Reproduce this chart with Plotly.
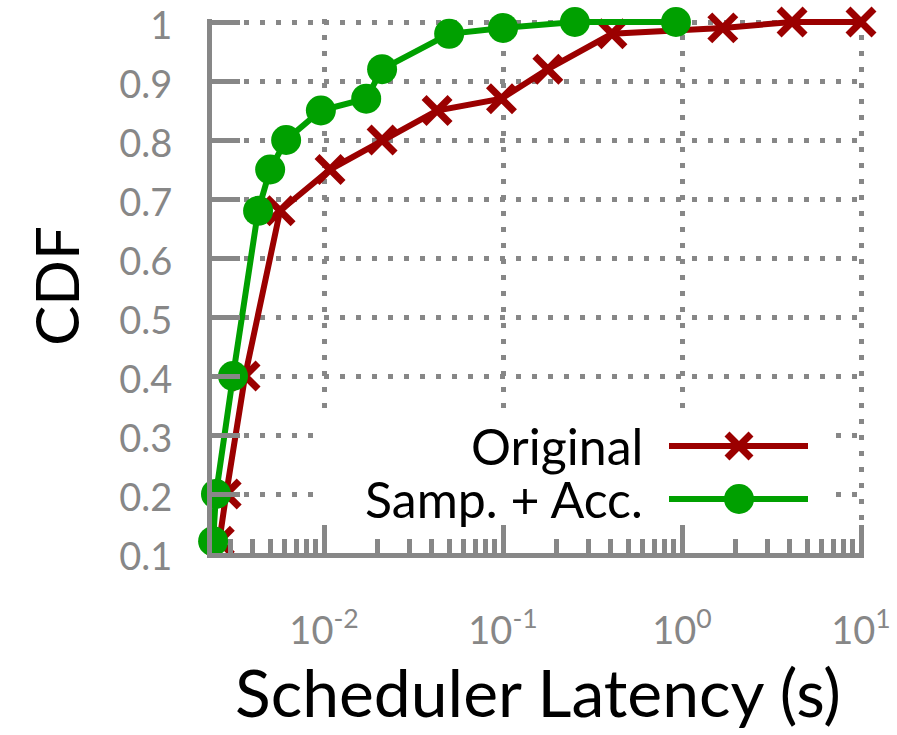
import plotly.graph_objects as go

# ---- data ----
orig_x = [0.0026, 0.00284, 0.00362, 0.00568, 0.0108, 0.0211, 0.0428, 0.098, 0.178, 0.406, 1.69, 4.12, 10.0]
orig_y = [0.12, 0.20, 0.40, 0.68, 0.75, 0.80, 0.85, 0.87, 0.92, 0.98, 0.99, 1.0, 1.0]
samp_x = [0.0024, 0.00249, 0.0031, 0.00428, 0.005, 0.00614, 0.0096, 0.0172, 0.0211, 0.05, 0.1, 0.252, 0.925]
samp_y = [0.12, 0.20, 0.40, 0.68, 0.75, 0.80, 0.85, 0.87, 0.92, 0.98, 0.99, 1.0, 1.0]
series_names = ["Original", "Samp. + Acc."]
y_ticks = [0.1, 0.2, 0.3, 0.4, 0.5, 0.6, 0.7, 0.8, 0.9, 1.0]
y_tick_labels = ["0.1", "0.2", "0.3", "0.4", "0.5", "0.6", "0.7", "0.8", "0.9", "1"]
x_tick_vals = [0.01, 0.1, 1, 10]
x_tick_labels = ["10<sup>-2</sup>", "10<sup>-1</sup>", "10<sup>0</sup>", "10<sup>1</sup>"]

RED = "#9b0000"
GREEN = "#00a000"
GRAY = "#878787"
FONT = "Lato"

fig = go.Figure()
fig.add_trace(go.Scatter(
    x=orig_x, y=orig_y, mode="lines+markers", name=series_names[0],
    line=dict(color=RED, width=6),
    marker=dict(symbol="x-thin", size=26, line=dict(color=RED, width=7), color=RED),
    cliponaxis=False, showlegend=False))
fig.add_trace(go.Scatter(
    x=samp_x, y=samp_y, mode="lines+markers", name=series_names[1],
    line=dict(color=GREEN, width=6),
    marker=dict(symbol="circle", size=30, color=GREEN),
    cliponaxis=False, showlegend=False))

W, H = 897, 735
# the plot area is padded by 3 px at the top and right so edge grid lines are kept
L, R, T, B = 212, 33, 19, 182
pw, ph = W - L - R, H - T - B
X_LO, X_HI = -2.626, 1.0 + 3 / 179.0
Y_LO, Y_HI = 0.1, 1.0 + 3 / 590.0

def px(x):
    return (x - L) / pw

def py(y):
    return (H - B - y) / ph

shapes = [
    # legend background (covers the grid)
    dict(type="rect", xref="paper", yref="paper", x0=px(313), x1=px(826), y0=py(523), y1=py(418),
         fillcolor="white", line=dict(width=0), layer="above"),
    # legend sample lines
    dict(type="line", xref="paper", yref="paper", x0=px(669), x1=px(808), y0=py(446), y1=py(446),
         line=dict(color=RED, width=6), layer="above"),
    dict(type="line", xref="paper", yref="paper", x0=px(669), x1=px(808), y0=py(499), y1=py(499),
         line=dict(color=GREEN, width=6), layer="above"),
    # legend sample markers
    dict(type="path", xref="paper", yref="paper", xsizemode="pixel", ysizemode="pixel",
         xanchor=px(739), yanchor=py(446), path="M-12,-12 L12,12 M-12,12 L12,-12",
         line=dict(color=RED, width=7), layer="above"),
    dict(type="circle", xref="paper", yref="paper", xsizemode="pixel", ysizemode="pixel",
         xanchor=px(739), yanchor=py(499), x0=-15, x1=15, y0=-15, y1=15,
         fillcolor=GREEN, line=dict(width=0), layer="above"),
]

annotations = [
    dict(text=series_names[0], xref="paper", yref="paper", x=px(645), y=py(446), xanchor="right",
         yanchor="middle", showarrow=False, font=dict(family=FONT, size=50, color="black")),
    dict(text=series_names[1], xref="paper", yref="paper", x=px(645), y=py(499), xanchor="right",
         yanchor="middle", showarrow=False, font=dict(family=FONT, size=50, color="black")),
]

fig.update_layout(
    width=W, height=H,
    margin=dict(l=L, r=R, t=T, b=B),
    paper_bgcolor="white", plot_bgcolor="white",
    font=dict(family=FONT),
    shapes=shapes, annotations=annotations,
    xaxis=dict(
        type="log", range=[X_LO, X_HI],
        tickvals=x_tick_vals, ticktext=x_tick_labels,
        showline=True, linecolor=GRAY, linewidth=5,
        ticks="inside", ticklen=28, tickwidth=5, tickcolor=GRAY,
        minor=dict(ticks="inside", ticklen=14, tickwidth=5, tickcolor=GRAY, dtick="D1", showgrid=False),
        showgrid=True, gridcolor=GRAY, gridwidth=5, griddash="5px,11px",
        zeroline=False,
        tickfont=dict(family=FONT, size=38, color=GRAY),
        ticklabelstandoff=40, ticklabeloverflow="allow",
        title=dict(text="Scheduler Latency (s)", font=dict(family=FONT, size=66, color="black"), standoff=8),
        automargin=False,
    ),
    yaxis=dict(
        range=[Y_LO, Y_HI],
        tickvals=y_ticks, ticktext=y_tick_labels,
        showline=True, linecolor=GRAY, linewidth=5,
        ticks="inside", ticklen=28, tickwidth=5, tickcolor=GRAY,
        showgrid=True, gridcolor=GRAY, gridwidth=5, griddash="5px,11px",
        zeroline=False,
        tickfont=dict(family=FONT, size=38, color=GRAY),
        ticklabelstandoff=27, ticklabelshift=4, ticklabeloverflow="allow",
        title=dict(text="CDF", font=dict(family=FONT, size=60, color="black"), standoff=22),
        automargin=False,
    ),
)

fig.write_html("out.html")
